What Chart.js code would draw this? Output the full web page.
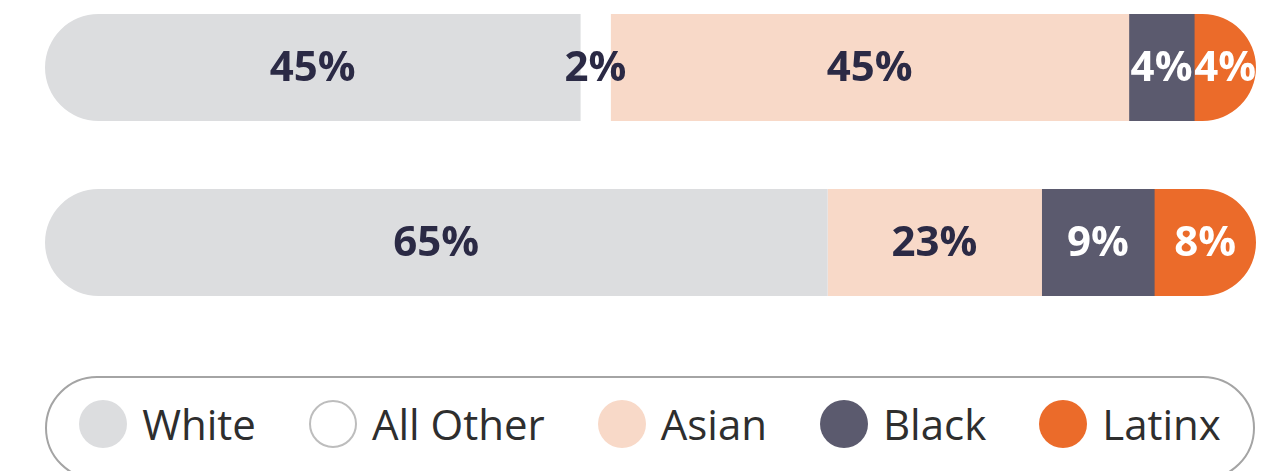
<!DOCTYPE html>
<html lang="en">
<head>
<meta charset="UTF-8" />
<title>Share by group</title>
<style>
  * { margin: 0; padding: 0; box-sizing: border-box; }
  body {
    width: 1266px;
    height: 471px;
    overflow: hidden;
    background: #ffffff;
    position: relative;
    font-family: "Open Sans", sans-serif;
  }
  .chartBox {
    position: absolute;
    left: 0;
    top: 0;
    width: 1266px;
    height: 310px;
  }
  .legendBox {
    position: absolute;
    left: 45px;
    top: 376px;
    width: 1210px;
    height: 104px;
    border: 2px solid #a4a4a4;
    border-radius: 52px;
  }
  .legendBox ul {
    list-style: none;
    display: flex;
    justify-content: center;
    padding-top: 22px;
    gap: 53px;
  }
  .legendBox li {
    display: flex;
    align-items: center;
    gap: 15px;
    font-size: 42px;
    line-height: 48px;
    color: #2e2e2e;
  }
  .legendBox .dot {
    width: 48px;
    height: 48px;
    border-radius: 50%;
  }
</style>
</head>
<body>
  <div class="chartBox"><canvas id="myChart"></canvas></div>
  <div class="legendBox" id="legend"></div>

  <script src="https://cdn.jsdelivr.net/npm/chart.js"></script>
  <script>
    // data block
    const rows = ["Group A", "Group B"];
    const groups = ["White", "All Other", "Asian", "Black", "Latinx"];

    // segment sizes
    const white = [44.2, 64.6];
    const allOther = [2.5, 0];
    const asian = [42.8, 17.7];
    const black = [5.4, 9.3];
    const latinx = [5.1, 8.4];

    // printed labels
    const whiteLabels = ["45%", "65%"];
    const allOtherLabels = ["2%", ""];
    const asianLabels = ["45%", "23%"];
    const blackLabels = ["4%", "9%"];
    const latinxLabels = ["4%", "8%"];

    const colors = ["#dcdddf", "#ffffff", "#f8d9c8", "#5b5a6e", "#eb6b2a"];
    const borders = ["#dcdddf", "#bdbdbd", "#f8d9c8", "#5b5a6e", "#eb6b2a"];
    const textColors = ["#2b2a45", "#2b2a45", "#2b2a45", "#ffffff", "#ffffff"];

    const values = [white, allOther, asian, black, latinx];
    const labelSets = [whiteLabels, allOtherLabels, asianLabels, blackLabels, latinxLabels];

    const data = {
      labels: rows,
      datasets: groups.map((g, i) => ({
        label: g,
        data: values[i],
        backgroundColor: colors[i],
        borderColor: borders[i],
        borderWidth: 0,
        borderSkipped: false,
        barThickness: 107,
        clip: false,
        valueLabels: labelSets[i],
        textColor: textColors[i]
      }))
    };

    // clip the stacked bars to a pill shape per row, then print the labels
    const pillClip = {
      id: "pillClip",
      beforeDatasetsDraw(chart) {
        const { ctx, scales: { x } } = chart;
        const first = chart.getDatasetMeta(0);
        ctx.save();
        ctx.beginPath();
        first.data.forEach((bar, i) => {
          const total = chart.data.datasets.reduce((s, d) => s + d.data[i], 0);
          const x0 = x.getPixelForValue(0);
          const x1 = x.getPixelForValue(total);
          const h = bar.height;
          ctx.roundRect(x0, bar.y - h / 2, x1 - x0, h, h / 2);
        });
        ctx.clip();
      },
      afterDatasetsDraw(chart) {
        const { ctx } = chart;
        ctx.restore();
        ctx.save();
        ctx.font = "bold 42px 'Open Sans', sans-serif";
        ctx.textAlign = "center";
        ctx.textBaseline = "middle";
        chart.data.datasets.forEach((ds, di) => {
          chart.getDatasetMeta(di).data.forEach((bar, i) => {
            const text = ds.valueLabels[i];
            if (!text) return;
            ctx.fillStyle = ds.textColor;
            ctx.fillText(text, (bar.x + bar.base) / 2, bar.y + 2);
          });
        });
        ctx.restore();
      }
    };

    // config block
    const config = {
      type: "bar",
      data,
      options: {
        indexAxis: "y",
        responsive: true,
        maintainAspectRatio: false,
        animation: false,
        layout: { padding: { left: 45, right: 10, top: 67.5, bottom: 67.5 } },
        scales: {
          x: { stacked: true, min: 0, max: 100, display: false },
          y: { stacked: true, display: false, offset: false }
        },
        plugins: {
          legend: { display: false },
          tooltip: { enabled: false }
        }
      },
      plugins: [pillClip]
    };

    // init render block
    const myChart = new Chart(document.getElementById("myChart"), config);

    // html legend built from the chart's own legend items
    const items = Chart.defaults.plugins.legend.labels.generateLabels(myChart);
    const ul = document.createElement("ul");
    items.forEach((item) => {
      const li = document.createElement("li");
      const dot = document.createElement("span");
      dot.className = "dot";
      dot.style.background = item.fillStyle;
      if (item.fillStyle === "#ffffff") dot.style.border = "2px solid " + item.strokeStyle;
      const label = document.createElement("span");
      label.textContent = item.text;
      li.appendChild(dot);
      li.appendChild(label);
      ul.appendChild(li);
    });
    document.getElementById("legend").appendChild(ul);
  </script>
</body>
</html>
